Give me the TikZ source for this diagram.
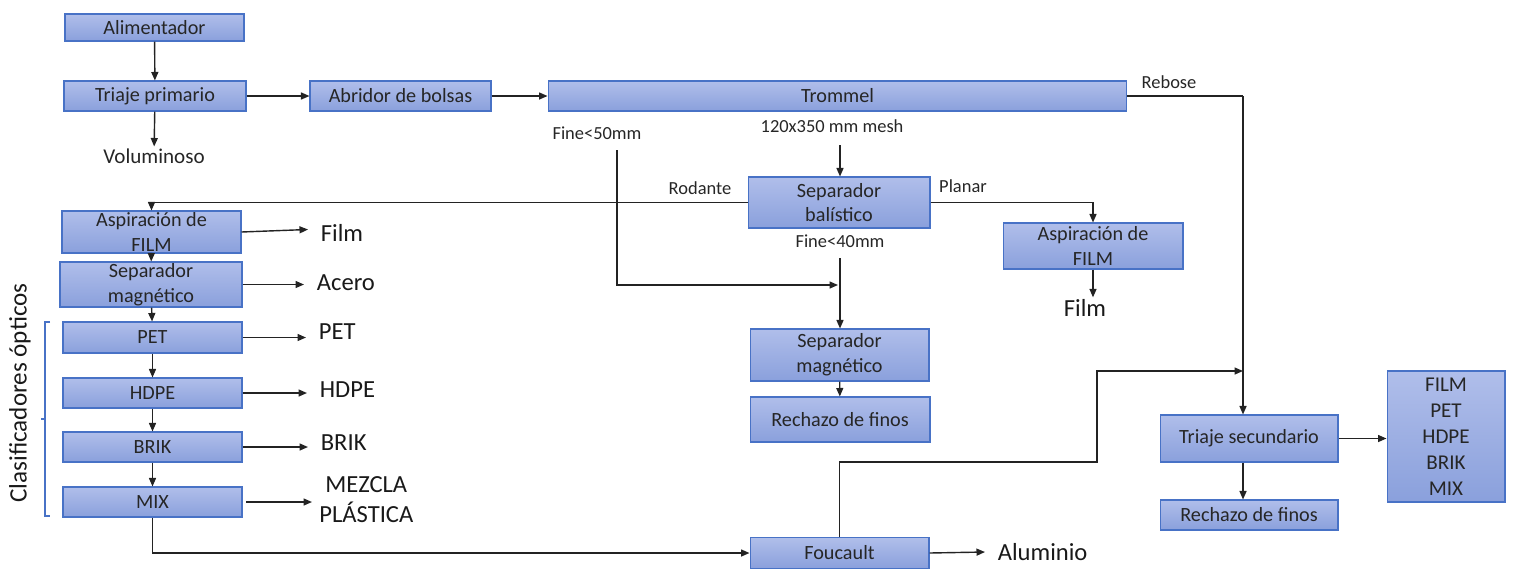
\documentclass[tikz,border=0pt]{standalone}
\usepackage{fontspec}
\setmainfont{Carlito}
\usetikzlibrary{arrows.meta}

\definecolor{boxtop}{RGB}{176,190,234}
\definecolor{boxbot}{RGB}{138,160,220}
\definecolor{boxline}{RGB}{72,114,198}
\definecolor{linegray}{RGB}{35,35,35}

\begin{document}
\begin{tikzpicture}[x = 0.02cm, y = -0.02cm,
    box/.style = {draw = boxline, line width = 0.6pt, top color = boxtop, bottom color = boxbot,
        inner sep = 0pt, align = center, text = black!85, font = \fontsize{11.5}{14}\selectfont},
    lbl/.style = {inner sep = 1pt, text = black!85, font = \fontsize{10.5}{12}\selectfont},
    big/.style = {inner sep = 1pt, align = center, text = black!90, font = \fontsize{14}{17}\selectfont},
    bigl/.style = {big, anchor = west, inner xsep = 0.25cm},
    arr/.style = {draw = linegray, line width = 0.8pt, -{Triangle[length = 1.7mm, width = 1.4mm]}},
    ln/.style = {draw = linegray, line width = 0.8pt}]
    \useasboundingbox (0,0) rectangle (1513,569);

    % upper line
    \node[box, minimum width = 3.58cm, minimum height = 0.54cm] (alim) at (154.5,27.5) {Alimentador};
    \node[box, minimum width = 3.64cm, minimum height = 0.6cm] (triaje1) at (155,96) {Triaje primario};
    \node[box, minimum width = 3.62cm, minimum height = 0.6cm] (abridor) at (400.5,96) {Abridor de bolsas};
    \node[box, minimum width = 11.58cm, minimum height = 0.6cm] (trommel) at (837.5,96) {Trommel};
    \node[font = \fontsize{12}{14}\selectfont, text = black!85, inner sep = 1pt] (volum) at (154,156) {Voluminoso};

    % middle
    \node[box, minimum width = 3.64cm, minimum height = 1.02cm] (balistico) at (839,202.5) {Separador\\bal\'istico};
    \node[box, minimum width = 3.6cm, minimum height = 0.92cm] (aspir2) at (1093,246) {Aspiraci\'on de\\FILM};
    \node[box, minimum width = 3.58cm, minimum height = 1.04cm] (magn2) at (839.5,355) {Separador\\magn\'etico};
    \node[box, minimum width = 3.6cm, minimum height = 0.9cm] (rechazo1) at (840,419.5) {Rechazo de finos};
    \node[box, minimum width = 3.58cm, minimum height = 0.62cm] (foucault) at (839.5,553) {Foucault};

    % right
    \node[box, minimum width = 3.56cm, minimum height = 0.94cm] (triaje2) at (1249,438.5) {Triaje secundario};
    \node[box, minimum width = 3.56cm, minimum height = 0.6cm] (rechazo2) at (1249,515) {Rechazo de finos};
    \node[box, minimum width = 2.36cm, minimum height = 2.62cm, font = \fontsize{12}{14.8}\selectfont] (mixbox) at (1446,436.5) {FILM\\PET\\HDPE\\BRIK\\MIX};

    % left column
    \node[box, minimum width = 3.58cm, minimum height = 0.84cm] (aspir1) at (151.5,232) {Aspiraci\'on de\\FILM};
    \node[box, minimum width = 3.64cm, minimum height = 0.9cm] (magn1) at (151,284.5) {Separador\\magn\'etico};
    \node[box, minimum width = 3.58cm, minimum height = 0.62cm] (pet) at (152.5,337.5) {PET};
    \node[box, minimum width = 3.58cm, minimum height = 0.6cm] (hdpe) at (152.5,393) {HDPE};
    \node[box, minimum width = 3.58cm, minimum height = 0.6cm] (brik) at (152.5,447) {BRIK};
    \node[box, minimum width = 3.58cm, minimum height = 0.6cm] (mix) at (152.5,502) {MIX};

    % labels
    \node[lbl] (rebose) at (1169,82) {Rebose};
    \node[lbl] (fine50) at (597,133) {Fine<50mm};
    \node[lbl] (mesh) at (832,126) {120x350 mm mesh};
    \node[lbl] (rodante) at (700,188) {Rodante};
    \node[lbl] (planar) at (963,186) {Planar};
    \node[lbl] (fine40) at (840,241) {Fine<40mm};
    \node[big] (film2) at (1085,308) {Film};
    \node[bigl] (aluminio) at (985,552) {Aluminio};
    \node[bigl] (film1) at (308,233) {Film};
    \node[bigl] (acero) at (304,283) {Acero};
    \node[bigl] (petl) at (306,332) {PET};
    \node[bigl] (hdpel) at (307,390) {HDPE};
    \node[bigl] (brikl) at (308,443) {BRIK};
    \node[bigl, inner xsep = 0.14cm] (mezcla) at (312,500) {MEZCLA\\PL\'ASTICA};
    \node[big, rotate = 90, font = \fontsize{14.3}{17}\selectfont] (clasif) at (20,393) {Clasificadores \'opticos};
    \draw[boxline, line width = 0.6pt] (50,322) -- (45,322) -- (45,516) -- (50,516) (45,419) -- (41,419);

    % junctions
    \coordinate (rb) at (1243,96);
    \coordinate (j1) at (838,285);
    \coordinate (j2) at (1243,371);
    \coordinate (f50) at (617,150);
    \coordinate (f40) at (840,258);
    \coordinate (m1) at (840,145);

    % connectors
    \draw[arr] (alim) -- (triaje1);
    \draw[arr] (triaje1) -- (volum);
    \draw[arr] (triaje1) -- (abridor);
    \draw[arr] (abridor) -- (trommel);
    \draw[ln] (trommel.east) -- (rb);
    \draw[arr] (rb) -- (rb |- triaje2.north);
    \draw[arr] (m1) -- (m1 |- balistico.north);
    \draw[arr] (f50) |- (j1);
    \draw[arr] (f40) -- (f40 |- magn2.north);
    \draw[arr] (balistico.west) -| (aspir1.north);
    \draw[arr] (balistico.east) -| (aspir2.north);
    \draw[arr] (aspir2.south) -- (aspir2.south |- film2.north);
    \draw[arr] (magn2) -- (rechazo1);
    \draw[arr] (aspir1) -- (magn1);
    \draw[arr] (magn1) -- (pet);
    \draw[arr] (pet) -- (hdpe);
    \draw[arr] (hdpe) -- (brik);
    \draw[arr] (brik) -- (mix);
    \draw[arr] (aspir1.east) -- ([yshift = 2pt]film1.west);
    \draw[arr] (magn1.east) -- (acero.west |- magn1.east);
    \draw[arr] (pet.east) -- (petl.west |- pet.east);
    \draw[arr] (hdpe.east) -- (hdpel.west |- hdpe.east);
    \draw[arr] (brik.east) -- (brikl.west |- brik.east);
    \draw[arr] ([xshift = 2pt]mix.east) -- (mezcla.west |- mix.east);
    \draw[arr] (mix.south) |- (foucault.west);
    \draw[arr] (foucault.east) -- (aluminio.west);
    \draw[arr] (foucault.north) |- (1097,462) |- (j2);
    \draw[arr] (triaje2.east) -- (mixbox.west |- triaje2.east);
    \draw[arr] (triaje2.south -| rb) -- (rechazo2.north -| rb);
\end{tikzpicture}
\end{document}
